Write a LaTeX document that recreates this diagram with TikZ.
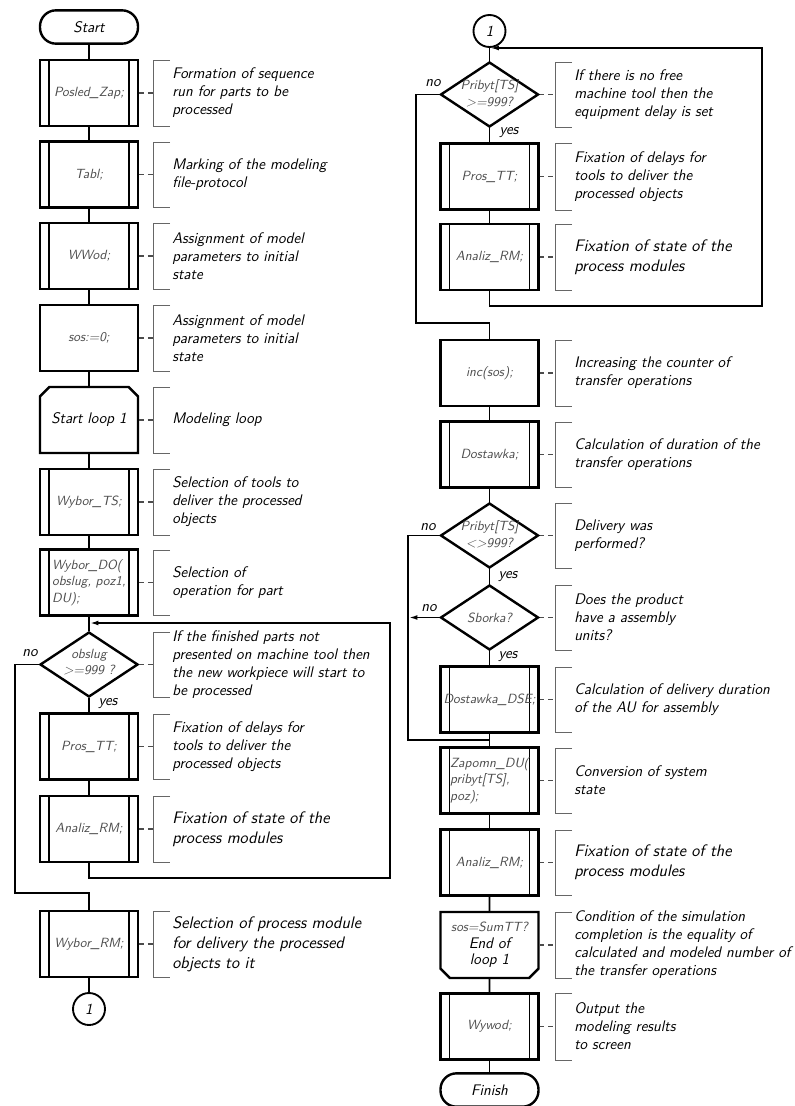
\documentclass[tikz,border=0pt]{standalone}
\usepackage{fontspec}
\usetikzlibrary{shapes.geometric,shapes.misc,arrows.meta}
\newcommand\cfont{\sffamily\itshape\fontsize{11.5}{13.5}\selectfont}
\newcommand\cbig{\sffamily\itshape\fontsize{12.5}{15}\selectfont}
\newcommand\tfont{\sffamily\itshape\fontsize{11.5}{13}\selectfont}
\newcommand\bfnt{\sffamily\itshape\fontsize{10}{12.5}\selectfont}
\newcommand\dfnt{\sffamily\itshape\fontsize{10}{12.5}\selectfont}
\newcommand\mycmt[6]{%
  \coordinate (#1-b) at (#2,{(#3+#4)/2});
  \draw[brk] (#2+17,#3) -- (#2,#3) -- (#2,#4) -- (#2+17,#4);
  \draw[dsh] (#1.east) -- (#1-b);
  \node[cmt,font=#5] (#1-c) at (#2+19,{(#3+#4)/2}) {#6};
}
\begin{document}
\begin{tikzpicture}[x=0.75pt,y=-0.75pt,
  box/.style={draw, line width=1.8pt, minimum width=73.5pt, minimum height=49.5pt, inner sep=2pt, font=\bfnt, text=black!70},
  pp/.style={box, path picture={\draw[line width=1.4pt]
      ([xshift=6.75pt]path picture bounding box.north west) -- ([xshift=6.75pt]path picture bounding box.south west)
      ([xshift=-6.75pt]path picture bounding box.north east) -- ([xshift=-6.75pt]path picture bounding box.south east);}},
  term/.style={draw, line width=1.8pt, rounded corners=12pt, minimum width=73.5pt, minimum height=25pt, font=\tfont},
  conn/.style={circle, draw, line width=1.4pt, minimum size=24pt, inner sep=0, font=\tfont},
  dec/.style={diamond, draw, line width=1.8pt, minimum width=73.5pt, minimum height=48.75pt, inner sep=0},
  dtext/.style={align=center, font=\dfnt, text=black!70, inner sep=0},
  chtop/.style={chamfered rectangle, chamfered rectangle corners={north west,north east}, chamfered rectangle xsep=3.5pt, chamfered rectangle ysep=3.5pt},
  chbot/.style={chamfered rectangle, chamfered rectangle corners={south west,south east}, chamfered rectangle xsep=3.5pt, chamfered rectangle ysep=3.5pt},
  line/.style={line width=1.4pt},
  arr/.style={line width=1.4pt, -{Latex[length=7pt,width=3.5pt]}},
  brk/.style={draw=black!60, line width=0.6pt},
  dsh/.style={draw=black!70, line width=0.8pt, dash pattern=on 3.5pt off 3pt},
  cmt/.style={anchor=west, align=left, inner sep=0},
  lbl/.style={font=\tfont, inner sep=0}]
\useasboundingbox (0,0) rectangle (795,1106);
% ---------------- left column ----------------
\node[term] (start) at (89,27) {Start};
\node[pp] (posled) at (89,93) {Posled\_Zap;};
\node[pp] (tabl) at (89,174.5) {Tabl;};
\node[pp] (wwod) at (89,256) {WWod;};
\node[box] (sos) at (89,338) {sos:=0;};
\node[box,chtop,font=\tfont,text=black] (loop1) at (89,420) {Start loop 1};
\node[pp] (wts) at (89,502) {Wybor\_TS;};
\node[pp,align=left] (wdo) at (89,582.5) {Wybor\_DO(\\obslug, poz1,\\DU);};
\coordinate (m1) at (89,623);
\node[dec] (d1) at (89,664.5) {};
\node[dtext] (d1t) at (89,662) {obslug\\>=999 ?};
\node[pp] (pros) at (89,746.5) {Pros\_TT;};
\node[pp] (anl) at (89,829) {Analiz\_RM;};
\node[pp] (wrm) at (89,944) {Wybor\_RM;};
\node[conn] (c1) at (89,1009) {1};
\node[lbl] (no1) at (30,653) {no};
\node[lbl] (yes1) at (108,704) {yes};
\coordinate (l1b) at (390,878);
\coordinate (n1) at (15,893);
\draw[line] (start) -- (posled);
\draw[line] (posled) -- (tabl);
\draw[line] (tabl) -- (wwod);
\draw[line] (wwod) -- (sos);
\draw[line] (sos) -- (loop1);
\draw[line] (loop1) -- (wts);
\draw[line] (wts) -- (wdo);
\draw[line] (wdo) -- (d1);
\draw[line] (d1) -- (pros);
\draw[line] (pros) -- (anl);
\draw[arr] (anl.south) |- (l1b) |- (m1);
\draw[line] (d1.west) -| (n1) -| (wrm.north);
\draw[line] (wrm) -- (c1);
\mycmt{posled}{153}{60}{126}{\cfont}{Formation of sequence\\run for parts to be\\processed}
\mycmt{tabl}{153}{142}{207}{\cfont}{Marking of the modeling\\file-protocol}
\mycmt{wwod}{153}{223}{289}{\cfont}{Assignment of model\\parameters to initial\\state}
\mycmt{sos}{153}{305}{371}{\cfont}{Assignment of model\\parameters to initial\\state}
\mycmt{loop1}{153}{387}{453}{\cfont}{Modeling loop}
\mycmt{wts}{153}{469}{535}{\cfont}{Selection of tools to\\deliver the processed\\objects}
\mycmt{wdo}{153}{550}{615}{\cfont}{Selection of\\operation for part}
\mycmt{d1}{153}{632}{697}{\cfont}{If the finished parts not\\presented on machine tool then\\the new workpiece will start to\\be processed}
\mycmt{pros}{153}{714}{779}{\cfont}{Fixation of delays for\\tools to deliver the\\processed objects}
\mycmt{anl}{153}{796}{862}{\cbig}{Fixation of state of the\\process modules}
\mycmt{wrm}{153}{911}{977}{\cbig}{Selection of process module\\for delivery the processed\\objects to it}
% ---------------- right column ----------------
\node[conn] (c2) at (489.5,31) {1};
\coordinate (m2) at (489.5,48);
\node[dec] (d2) at (489.5,94.5) {};
\node[dtext] (d2t) at (489.5,93) {Pribyt[TS]\\>=999?};
\node[pp] (pros2) at (489.5,176.5) {Pros\_TT;};
\node[pp] (anl2) at (489.5,257) {Analiz\_RM;};
\node[box] (inc) at (489.5,373) {inc(sos);};
\node[pp] (dos) at (489.5,454.5) {Dostawka;};
\node[dec] (d3) at (489.5,535.5) {};
\node[dtext] (d3t) at (489.5,534) {Pribyt[TS]\\<>999?};
\node[dec] (d4) at (489.5,617.5) {};
\node[dtext] (d4t) at (489.5,617.5) {Sborka?};
\node[pp] (dse) at (489.5,699.5) {Dostawka\_DSE;};
\coordinate (m3) at (489.5,740);
\node[pp,align=left] (zap) at (489.5,780.5) {Zapomn\_DU(\\pribyt[TS],\\poz);};
\node[pp] (anl3) at (489.5,862.5) {Analiz\_RM;};
\node[box,chbot,align=center] (end1) at (489.5,945) {sos=SumTT?\\\textcolor{black}{\tfont End of}\\\textcolor{black}{\tfont loop 1}};
\node[pp] (wyw) at (489.5,1026.5) {Wywod;};
\node[term] (fin) at (489.5,1090) {Finish};
\node[lbl] (no2) at (433,83) {no};
\node[lbl] (yes2) at (509,133) {yes};
\node[lbl] (no3) at (428,527) {no};
\node[lbl] (yes3) at (508,577) {yes};
\node[lbl] (no4) at (429,608) {no};
\node[lbl] (yes4) at (508,657) {yes};
\coordinate (l2b) at (762,306);
\coordinate (n2) at (416,323);
\coordinate (n3) at (408,740);
\coordinate (n4) at (408,617.5);
\draw[line] (c2) -- (d2);
\draw[line] (d2) -- (pros2);
\draw[line] (pros2) -- (anl2);
\draw[arr] (anl2.south) |- (l2b) |- (m2);
\draw[line] (d2.west) -| (n2) -| (inc.north);
\draw[line] (inc) -- (dos);
\draw[line] (dos) -- (d3);
\draw[line] (d3) -- (d4);
\draw[line] (d4) -- (dse);
\draw[line] (dse) -- (zap);
\draw[line] (d3.west) -| (n3) -- (m3);
\draw[arr] (d4.west) -- (n4);
\draw[line] (zap) -- (anl3);
\draw[line] (anl3) -- (end1);
\draw[line] (end1) -- (wyw);
\draw[line] (wyw) -- (fin);
\mycmt{d2}{555}{62}{127}{\cfont}{If there is no free\\machine tool then the\\equipment delay is set}
\mycmt{pros2}{555}{143}{210}{\cfont}{Fixation of delays for\\tools to deliver the\\processed objects}
\mycmt{anl2}{555}{224}{290}{\cbig}{Fixation of state of the\\process modules}
\mycmt{inc}{555}{340}{406}{\cfont}{Increasing the counter of\\transfer operations}
\mycmt{dos}{555}{422}{487}{\cfont}{Calculation of duration of the\\transfer operations}
\mycmt{d3}{555}{503}{568}{\cfont}{Delivery was\\performed?}
\mycmt{d4}{555}{585}{650}{\cfont}{Does the product\\have a assembly\\units?}
\mycmt{dse}{555}{667}{732}{\cfont}{Calculation of delivery duration\\of the AU for assembly}
\mycmt{zap}{555}{748}{813}{\cfont}{Conversion of system\\state}
\mycmt{anl3}{555}{830}{895}{\cbig}{Fixation of state of the\\process modules}
\mycmt{end1}{555}{912}{978}{\cfont}{Condition of the simulation\\completion is the equality of\\calculated and modeled number of\\the transfer operations}
\mycmt{wyw}{555}{993}{1060}{\cfont}{Output the\\modeling results\\to screen}
\end{tikzpicture}
\end{document}
